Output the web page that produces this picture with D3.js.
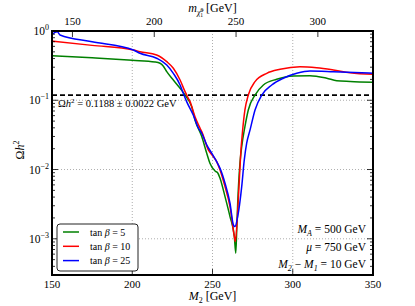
<!DOCTYPE html>
<html>
<head>
<meta charset="utf-8">
<script src="https://cdn.jsdelivr.net/npm/d3@7"></script>
<style>
html, body { margin: 0; padding: 0; background: #fff; overflow: hidden; }
svg { display: block; }
text { font-family: "Liberation Serif", "DejaVu Serif", serif; fill: #000; }
</style>
</head>
<body>
<div id="chart"></div>
<script>
const width = 415;
const height = 306;
const margin = { top: 31, right: 42, bottom: 31, left: 52 };

// relic density vs M2
const green = [
    [150, 0.44], [175, 0.41], [200, 0.378], [214.2, 0.357], [217.3, 0.342], [219.4, 0.31],
    [221.5, 0.259], [225.6, 0.196], [229.8, 0.149], [232.9, 0.119], [237.0, 0.0809],
    [239.1, 0.052], [243.3, 0.0299], [246.4, 0.0172], [248.4, 0.0123], [251.6, 0.0095],
    [253.2, 0.0090], [254.7, 0.00748], [257.8, 0.00406], [260.9, 0.00209], [263.6, 0.00108],
    [264.5, 0.00062], [265.1, 0.00134], [265.7, 0.00326], [267.1, 0.0123], [268.2, 0.0214],
    [270.2, 0.0416], [272.3, 0.0724], [276.5, 0.119], [281.7, 0.166], [290.0, 0.201],
    [300.3, 0.224], [310.7, 0.226], [321.2, 0.208], [327.4, 0.192], [335.7, 0.187], [350, 0.182]
];
const red = [
    [150, 0.717], [175, 0.62], [200.7, 0.532], [204.8, 0.503], [215.2, 0.451], [221.5, 0.361],
    [225.6, 0.29], [229.8, 0.196], [232.9, 0.133], [234.9, 0.107], [236.0, 0.0955],
    [239.1, 0.058], [242.2, 0.0398], [243.3, 0.0352], [247.4, 0.0192], [250.5, 0.0154],
    [252.6, 0.013], [254.7, 0.00987], [257.8, 0.00566], [260.9, 0.00292], [263.6, 0.00108],
    [264.2, 0.000912], [265.5, 0.00209], [266.5, 0.00566], [267.6, 0.0172], [268.6, 0.0334],
    [270.2, 0.0724], [272.3, 0.119], [276.5, 0.186], [283.8, 0.245], [292.1, 0.28],
    [304.5, 0.305], [314.9, 0.295], [325.3, 0.274], [335.7, 0.25], [350, 0.237]
];
const blue = [
    [150, 0.896], [153.3, 0.977], [155, 0.875], [175, 0.7], [200.7, 0.532], [204.8, 0.477],
    [215.2, 0.404], [221.5, 0.323], [225.6, 0.245], [229.8, 0.166], [231.8, 0.126],
    [233.9, 0.0955], [238.0, 0.0614], [241.2, 0.0398], [243.3, 0.0334], [246.4, 0.0227],
    [249.5, 0.0172], [252.6, 0.013], [254.7, 0.0104], [257.8, 0.00634], [260.9, 0.00326],
    [263.0, 0.00159], [264.0, 0.0015], [265.7, 0.00209], [268.2, 0.00566], [269.8, 0.0138],
    [271.3, 0.024], [273.4, 0.0373], [276.5, 0.0724], [280.7, 0.119], [286.9, 0.166],
    [294.1, 0.208], [302.5, 0.245], [310.7, 0.265], [325.3, 0.259], [350, 0.245]
];
const tanBeta = ["5", "10", "25"];
const lineColors = ["#008000", "#ff0000", "#0000ff"];
const omegaObs = 0.1188;

const xTicks = [150, 200, 250, 300, 350];
const topTicks = [150, 200, 250, 300];
const yExponents = [0, -1, -2, -3];

const innerWidth = width - margin.left - margin.right;
const innerHeight = height - margin.top - margin.bottom;

const svg = d3.select("#chart").append("svg")
    .attr("width", width)
    .attr("height", height);

const graph = svg.append("g")
    .attr("transform", "translate(" + margin.left + "," + margin.top + ")");

const x = d3.scaleLinear().domain([150, 350]).range([0, innerWidth]);
const xTop = d3.scaleLinear().domain([137.5, 333.7]).range([0, innerWidth]);
const y = d3.scaleLog().domain([3e-4, 1]).range([innerHeight, 0]);

graph.append("clipPath").attr("id", "clip")
    .append("rect").attr("width", innerWidth).attr("height", innerHeight);

// dotted grid
graph.selectAll(".gx")
    .data(xTicks.slice(1, -1))
    .enter().append("line")
    .attr("x1", d => x(d)).attr("x2", d => x(d))
    .attr("y1", 0).attr("y2", innerHeight)
    .attr("stroke", "#999").attr("stroke-width", 0.8)
    .attr("stroke-dasharray", "1,2");
graph.selectAll(".gy")
    .data(yExponents.slice(1))
    .enter().append("line")
    .attr("x1", 0).attr("x2", innerWidth)
    .attr("y1", d => y(Math.pow(10, d))).attr("y2", d => y(Math.pow(10, d)))
    .attr("stroke", "#999").attr("stroke-width", 0.8)
    .attr("stroke-dasharray", "1,2");

// observed relic density
graph.append("line")
    .attr("x1", 0).attr("x2", innerWidth)
    .attr("y1", y(omegaObs)).attr("y2", y(omegaObs))
    .attr("stroke", "#000").attr("stroke-width", 1.6)
    .attr("stroke-dasharray", "5,3");

const obsLabel = graph.append("text")
    .attr("x", 6).attr("y", y(omegaObs) + 12)
    .attr("font-size", 10.5);
obsLabel.append("tspan").text("Ω");
obsLabel.append("tspan").attr("font-style", "italic").text("h");
obsLabel.append("tspan").attr("font-size", 7).attr("dy", -4).text("2");
obsLabel.append("tspan").attr("dy", 4).text(" = 0.1188 ± 0.0022 GeV");

// curves
const line = d3.line()
    .x(d => x(d[0]))
    .y(d => y(d[1]))
    .curve(d3.curveMonotoneX);

[green, red, blue].forEach((s, i) => {
    graph.append("path")
        .datum(s)
        .attr("clip-path", "url(#clip)")
        .attr("fill", "none")
        .attr("stroke", lineColors[i])
        .attr("stroke-width", 1.5)
        .attr("stroke-linejoin", "round")
        .attr("d", line);
});

// ticks, all pointing inward
const minor = [];
for (let e = -4; e < 0; e++) {
    for (let k = 2; k < 10; k++) {
        const v = k * Math.pow(10, e);
        if (v >= 3e-4 && v <= 1) minor.push(v);
    }
}
const tickG = graph.append("g").attr("stroke", "#000").attr("stroke-width", 0.8);
yExponents.forEach(e => {
    const yy = y(Math.pow(10, e));
    tickG.append("line").attr("x1", 0).attr("x2", 6).attr("y1", yy).attr("y2", yy);
    tickG.append("line").attr("x1", innerWidth).attr("x2", innerWidth - 6).attr("y1", yy).attr("y2", yy);
});
minor.forEach(v => {
    const yy = y(v);
    tickG.append("line").attr("x1", 0).attr("x2", 3).attr("y1", yy).attr("y2", yy);
    tickG.append("line").attr("x1", innerWidth).attr("x2", innerWidth - 3).attr("y1", yy).attr("y2", yy);
});
xTicks.forEach(v => {
    tickG.append("line").attr("x1", x(v)).attr("x2", x(v)).attr("y1", innerHeight).attr("y2", innerHeight - 6);
});
topTicks.forEach(v => {
    tickG.append("line").attr("x1", xTop(v)).attr("x2", xTop(v)).attr("y1", 0).attr("y2", 6);
});

// frame
graph.append("rect")
    .attr("width", innerWidth).attr("height", innerHeight)
    .attr("fill", "none").attr("stroke", "#000").attr("stroke-width", 2);

// tick labels
graph.selectAll(".xl")
    .data(xTicks)
    .enter().append("text")
    .attr("x", d => x(d)).attr("y", innerHeight + 13)
    .attr("text-anchor", "middle").attr("font-size", 11)
    .text(d => d);
graph.selectAll(".tl")
    .data(topTicks)
    .enter().append("text")
    .attr("x", d => xTop(d)).attr("y", -6)
    .attr("text-anchor", "middle").attr("font-size", 11)
    .text(d => d);
yExponents.forEach(e => {
    const t = graph.append("text")
        .attr("x", -3).attr("y", y(Math.pow(10, e)) + 4)
        .attr("text-anchor", "end").attr("font-size", 11.5);
    t.append("tspan").text("10");
    t.append("tspan").attr("font-size", 8).attr("dy", -5)
        .text(e === 0 ? "0" : "−" + (-e));
});

// axis labels
const xLabel = svg.append("text")
    .attr("x", margin.left + innerWidth / 2).attr("y", 300)
    .attr("text-anchor", "middle").attr("font-size", 12);
xLabel.append("tspan").attr("font-style", "italic").text("M");
xLabel.append("tspan").attr("font-size", 8).attr("dy", 3).text("2");
xLabel.append("tspan").attr("dy", -3).text(" [GeV]");

const topLabel = svg.append("text")
    .attr("x", margin.left + innerWidth / 2).attr("y", 12)
    .attr("text-anchor", "middle").attr("font-size", 12);
topLabel.append("tspan").attr("font-style", "italic").text("m");
topLabel.append("tspan").attr("font-style", "italic").attr("font-size", 8).attr("dy", 3).text("χ̃");
topLabel.append("tspan").attr("font-size", 5.5).attr("dy", -3).text("0");
topLabel.append("tspan").attr("font-size", 5.5).attr("dx", -3).attr("dy", 5).text("1");
topLabel.append("tspan").attr("dy", -5).text(" [GeV]");

const yLabel = svg.append("text")
    .attr("transform", "translate(24," + (margin.top + 119) + ") rotate(-90)")
    .attr("text-anchor", "middle").attr("font-size", 12);
yLabel.append("tspan").text("Ω");
yLabel.append("tspan").attr("font-style", "italic").text("h");
yLabel.append("tspan").attr("font-size", 8).attr("dy", -5).text("2");

// parameter notes
const notes = [
    { y: 233, parts: [["M", "italic"], ["A", "sub"], [" = 500 GeV", ""]] },
    { y: 251, parts: [["μ", "italic"], [" = 750 GeV", ""]] },
    { y: 268, parts: [["M", "italic"], ["2", "sub"], [" − ", "back"], ["M", "italic"], ["1", "sub"], [" = 10 GeV", "back"]] }
];
notes.forEach(n => {
    const t = svg.append("text")
        .attr("x", 366).attr("y", n.y)
        .attr("text-anchor", "end").attr("font-size", 11.5);
    let shifted = false;
    n.parts.forEach(p => {
        const ts = t.append("tspan").text(p[0]);
        if (p[1] === "italic") {
            ts.attr("font-style", "italic");
            if (shifted) { ts.attr("dy", -3); shifted = false; }
        } else if (p[1] === "sub") {
            ts.attr("font-size", 8).attr("font-style", "italic").attr("dy", 3);
            shifted = true;
        } else if (shifted) {
            ts.attr("dy", -3);
            shifted = false;
        }
    });
});

// legend
const legend = svg.append("g");
legend.append("rect")
    .attr("x", 57).attr("y", 224).attr("width", 81).attr("height", 47)
    .attr("rx", 3).attr("fill", "#fff").attr("stroke", "#222").attr("stroke-width", 1);
tanBeta.forEach((tb, i) => {
    const ly = 232 + i * 14.3;
    legend.append("line")
        .attr("x1", 63).attr("x2", 79).attr("y1", ly).attr("y2", ly)
        .attr("stroke", lineColors[i]).attr("stroke-width", 1.5);
    const t = legend.append("text").attr("x", 90).attr("y", ly + 3.5).attr("font-size", 10);
    t.append("tspan").text("tan ");
    t.append("tspan").attr("font-style", "italic").text("β");
    t.append("tspan").text(" = " + tb);
});
</script>
</body>
</html>
